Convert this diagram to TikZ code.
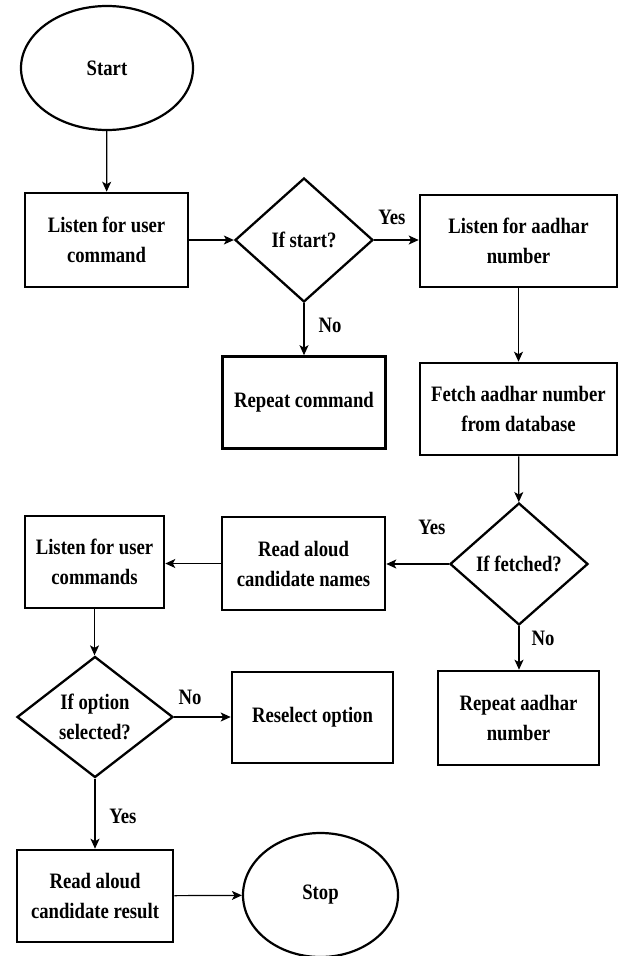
\documentclass[tikz,border=0pt]{standalone}
\usepackage{fontspec}
\setmainfont[FakeStretch=0.85]{Liberation Serif}
\usetikzlibrary{shapes.geometric,arrows.meta}
\begin{document}
\begin{tikzpicture}[x=1pt,y=-1pt,
  every node/.style={font=\fontsize{22}{30}\selectfont\bfseries},
  proc/.style={draw,line width=2.6pt,rectangle,align=center,inner sep=0pt},
  dec/.style={draw,line width=2.3pt,diamond,align=center,inner sep=0pt},
  term/.style={draw,line width=2.2pt,ellipse,inner sep=0pt},
  lbl/.style={inner sep=0pt},
  arr/.style={draw,line width=1.2pt,-{Stealth[length=10pt,width=9pt,inset=2.5pt]}}]
\useasboundingbox (0,0) rectangle (622,956);
\node[term,minimum width=172,minimum height=124] (start) at (107,68) {Start};
\node[proc,minimum width=163,minimum height=94] (lc) at (106.5,240) {Listen for user\\command};
\node[dec,minimum width=138,minimum height=124] (ifs) at (304,240) {If start?};
\node[proc,minimum width=197,minimum height=92] (la) at (518.5,241) {Listen for aadhar\\number};
\node[proc,minimum width=163,minimum height=92] (rc) at (304,402.5) {Repeat command};
\node[proc,minimum width=197,minimum height=92] (fe) at (518.5,409) {Fetch aadhar number\\from database};
\node[dec,minimum width=138,minimum height=122] (iff) at (519,564) {If fetched?};
\node[proc,minimum width=163,minimum height=93] (rn) at (303.5,563.5) {Read aloud\\candidate names};
\node[proc,minimum width=139,minimum height=92] (lu) at (94.5,562) {Listen for user\\commands};
\node[proc,minimum width=161,minimum height=94] (ra) at (518.5,718) {Repeat aadhar\\number};
\node[dec,minimum width=156,minimum height=121] (ios) at (95,717) {If option\\selected?};
\node[proc,minimum width=161,minimum height=91] (ro) at (312.5,717.5) {Reselect option};
\node[proc,minimum width=156,minimum height=92] (rr) at (95,896) {Read aloud\\candidate result};
\node[term,minimum width=155,minimum height=124] (stop) at (320.5,895) {Stop};
\path[arr] (start) -- (lc);
\path[arr] (lc) -- (ifs);
\path[arr] (ifs) -- (ifs -| la.west);
\path[arr] (ifs) -- (ifs |- rc.north);
\path[arr] (la) -- (fe);
\path[arr] (fe) -- (iff);
\path[arr] (iff) -- (iff -| rn.east);
\path[arr] (iff) -- (iff |- ra.north);
\path[arr] (rn) -- (rn -| lu.east);
\path[arr] (lu) -- (lu |- ios.north);
\path[arr] (ios) -- (ios -| ro.west);
\path[arr] (ios) -- (ios |- rr.north);
\path[arr] (rr) -- (stop);
\node[lbl] (y1) at (392,217) {Yes};
\node[lbl] (n1) at (330,325) {No};
\node[lbl] (y2) at (432,527) {Yes};
\node[lbl] (n2) at (543,638) {No};
\node[lbl] (n3) at (190,697) {No};
\node[lbl] (y3) at (123,816) {Yes};
\end{tikzpicture}
\end{document}
